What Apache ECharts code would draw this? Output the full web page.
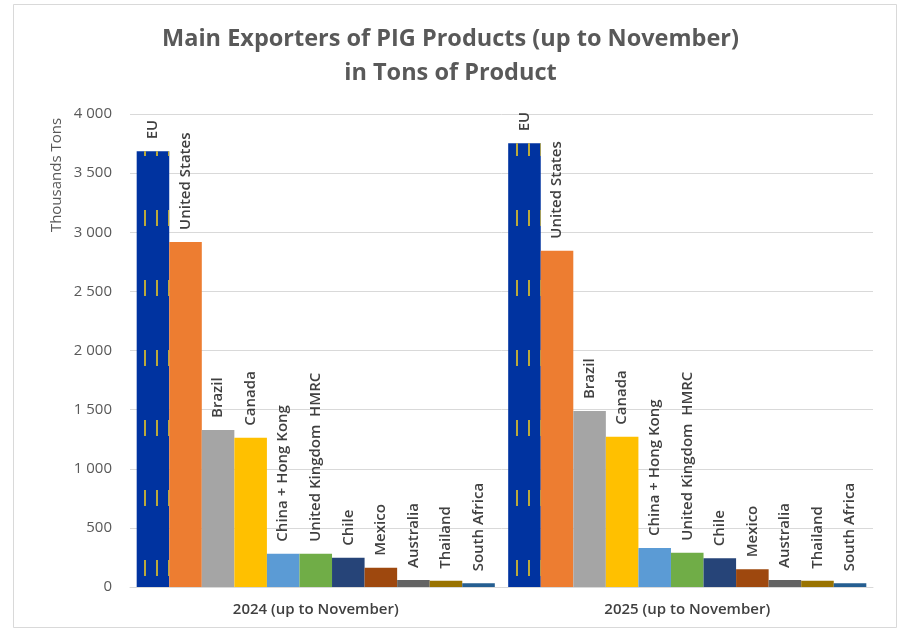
<!DOCTYPE html>
<html>
<head>
<meta charset="utf-8">
<script src="https://cdn.jsdelivr.net/npm/echarts@6/dist/echarts.min.js"></script>
<style>
html,body{margin:0;padding:0;background:#fff;}
#chart{width:901px;height:633px;}
</style>
</head>
<body>
<div id="chart"></div>
<script>
// Data
var periods = ['2024 (up to November)', '2025 (up to November)'];
var exporters = ['EU', 'United States', 'Brazil', 'Canada', 'China + Hong Kong', 'United Kingdom  HMRC', 'Chile', 'Mexico', 'Australia', 'Thailand', 'South Africa'];
var values2024 = [3685, 2918, 1328, 1263, 282, 281, 248, 163, 59, 53, 31];
var values2025 = [3752, 2844, 1488, 1271, 330, 290, 243, 150, 59, 53, 31];
var yTicks = [0, 500, 1000, 1500, 2000, 2500, 3000, 3500, 4000];

var colors = ['#0033A0', '#ED7D31', '#A5A5A5', '#FFC000', '#5B9BD5', '#70AD47', '#264478', '#9E480E', '#636363', '#997300', '#255E91'];

var chart = echarts.init(document.getElementById('chart'), null, {renderer: 'canvas'});

var series = exporters.map(function (name, i) {
  var s = {
    name: name,
    type: 'bar',
    barGap: '0%',
    barCategoryGap: '3.6%',
    data: [values2024[i], values2025[i]],
    itemStyle: {color: colors[i]},
    label: {
      show: true,
      position: 'top',
      distance: 12,
      rotate: 90,
      align: 'left',
      verticalAlign: 'middle',
      formatter: '{a}',
      color: '#404040',
      fontFamily: 'Open Sans',
      fontWeight: 600,
      fontSize: 15
    }
  };
  if (i === 0) {
    s.itemStyle.decal = {
      symbol: 'rect',
      symbolSize: 1,
      color: 'rgba(220,190,40,0.85)',
      dashArrayX: [2, 10],
      dashArrayY: [16, 54],
      rotation: 0
    };
  }
  return s;
});

function fmt(v) {
  return String(v).replace(/\B(?=(\d{3})+(?!\d))/g, ' ');
}

chart.setOption({
  animation: false,
  backgroundColor: '#fff',
  title: {
    text: 'Main Exporters of PIG Products (up to November)\nin Tons of Product',
    left: 'center',
    top: 17,
    textStyle: {
      fontFamily: 'Open Sans',
      fontWeight: 'bold',
      fontSize: 23.5,
      color: '#595959',
      lineHeight: 34
    }
  },
  graphic: [
    {
      type: 'rect',
      shape: {x: 13.5, y: 4.5, width: 883, height: 623},
      style: {fill: 'none', stroke: '#d9d9d9', lineWidth: 1},
      silent: true
    },
    {
      type: 'text',
      x: 57,
      y: 175,
      rotation: Math.PI / 2,
      style: {
        text: 'Thousands Tons',
        fontFamily: 'Open Sans',
        fontSize: 15,
        fill: '#595959',
        textAlign: 'center',
        textVerticalAlign: 'middle'
      }
    }
  ],
  grid: {left: 130, right: 28, top: 114, bottom: 46, containLabel: false},
  xAxis: {
    type: 'category',
    data: periods,
    axisTick: {show: false},
    axisLine: {lineStyle: {color: '#d9d9d9'}},
    axisLabel: {
      margin: 15,
      fontFamily: 'Open Sans',
      fontWeight: 600,
      fontSize: 15,
      color: '#404040'
    }
  },
  yAxis: {
    type: 'value',
    min: yTicks[0],
    max: yTicks[yTicks.length - 1],
    interval: 500,
    axisLine: {show: false},
    axisTick: {show: false},
    splitLine: {lineStyle: {color: '#d9d9d9', width: 1}},
    axisLabel: {
      margin: 18,
      fontFamily: 'Open Sans',
      fontSize: 15,
      color: '#595959',
      formatter: fmt
    }
  },
  series: series
});
</script>
</body>
</html>
